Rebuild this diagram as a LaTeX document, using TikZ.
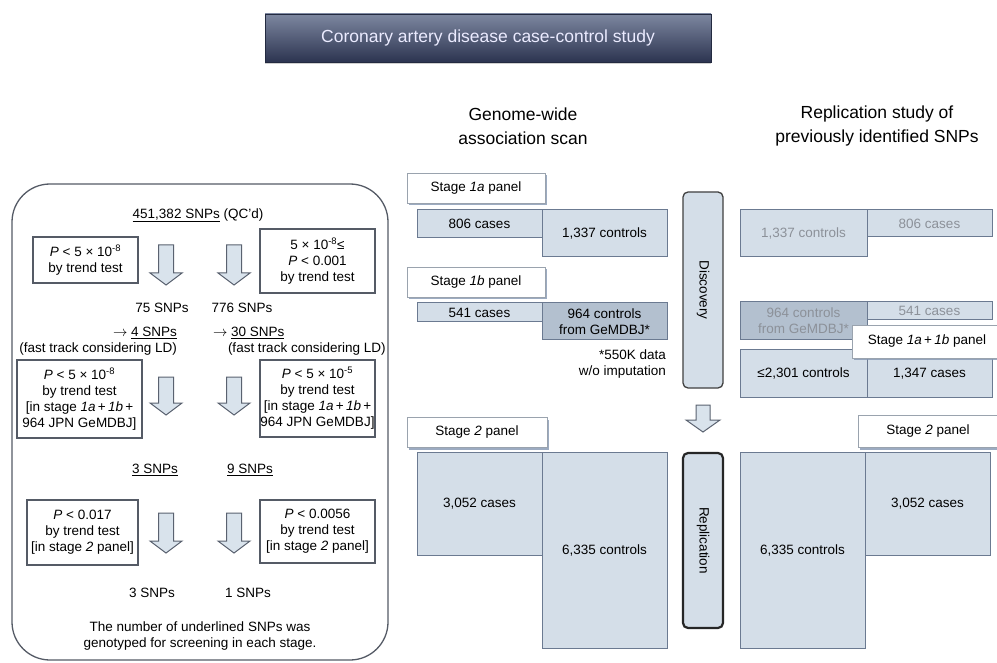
\documentclass[tikz,border=0pt]{standalone}
\usepackage{fontspec}
\setmainfont{Liberation Sans}
\usetikzlibrary{shadows}
\definecolor{boxfill}{HTML}{D4DEE8}
\definecolor{boxdraw}{HTML}{6B7A91}
\definecolor{darkfill}{HTML}{B3C0CF}
\definecolor{fadetext}{HTML}{8C9199}
\definecolor{lborder}{HTML}{555B66}
\definecolor{titletop}{HTML}{7D87A0}
\definecolor{titlebot}{HTML}{2C3450}
\definecolor{shadowc}{HTML}{8496B2}
\definecolor{arrfill}{HTML}{D9E3EC}
\definecolor{arrdraw}{HTML}{5A6270}
\definecolor{paneldraw}{HTML}{9AA3AE}
\newcommand{\blockdown}[5]{% x, top, tip, shaft half, head half
  \draw[blockarr] (#1-#4,#2) -- (#1+#4,#2) -- (#1+#4,#3-12) -- (#1+#5,#3-12)
    -- (#1,#3) -- (#1-#5,#3-12) -- (#1-#4,#3-12) -- cycle;}
\newcommand{\tarrow}{$\rightarrow$}
\begin{document}
\begin{tikzpicture}[x=1pt,y=-1pt,
  every node/.style={inner sep=0pt, outer sep=0pt, font=\fontsize{13.5}{16}\selectfont},
  cell/.style={draw=boxdraw, line width=1pt, fill=boxfill, align=center},
  darkcell/.style={cell, fill=darkfill},
  fade/.style={text=fadetext},
  panel/.style={draw=paneldraw, line width=0.8pt, fill=white,
    drop shadow={shadow xshift=2pt, shadow yshift=-2.5pt, fill=shadowc, opacity=0.8},
    minimum height=30pt},
  lbox/.style={draw=lborder, line width=1.2pt, fill=white, align=center},
  phase/.style={draw=black!75, line width=1.3pt, fill=boxfill, rounded corners=5pt,
    minimum width=40pt},
  heading/.style={align=center, font=\fontsize{17.5}{24}\selectfont},
  blockarr/.style={draw=arrdraw, line width=1pt, fill=arrfill, line join=miter},
  ]
\useasboundingbox[fill=white] (0,0) rectangle (997,663);

% title
\node[top color=titletop, bottom color=titlebot, draw=titlebot!80!black, line width=0.6pt,
  minimum width=446pt, minimum height=48pt, text=white!92!blue,
  font=\fontsize{17.5}{20}\selectfont,
  drop shadow={shadow xshift=0pt, shadow yshift=-2pt, fill=black!30, opacity=0.6}]
  (title) at (488,38) {Coronary artery disease case-control study};

% headings
\node[heading] (hgwas) at (523,126) {Genome-wide\\association scan};
\node[heading] (hrep) at (877,126) {Replication study of\\previously identified SNPs};

% ---------- left panel ----------
\draw[draw=lborder, line width=1.3pt, rounded corners=38pt] (12,184) rectangle (388,660);
\node (t451) at (198,215) {\underline{451,382 SNPs} (QC'd)};

\node[lbox, minimum width=105pt, minimum height=46pt] (b1) at (85.5,260)
  {\textit{P} < 5 × 10\textsuperscript{-8}\\by trend test};
\node[lbox, minimum width=115pt, minimum height=64pt] (b2) at (317.5,261)
  {5 × 10\textsuperscript{-8}≤\\\textit{P} < 0.001\\by trend test};
\blockdown{166}{245}{285}{7.5}{16}
\blockdown{234}{245}{285}{7.5}{16}

\node (n75) at (162,308) {75 SNPs};
\node (n776) at (242,308) {776 SNPs};
\node[anchor=east] (n4) at (177,333) {\tarrow\ \underline{4 SNPs}};
\node[anchor=east] (ft1) at (177,349) {(fast track considering LD)};
\node[anchor=west] (n30) at (213,333) {\tarrow\ \underline{30 SNPs}};
\node[anchor=west] (ft2) at (228,349) {(fast track considering LD)};

\node[lbox, minimum width=125pt, minimum height=78pt] (b3) at (79.5,399)
  {\textit{P} < 5 × 10\textsuperscript{-8}\\by trend test\\{[}in stage \textit{1a}\,+\,\textit{1b}\,+\\964 JPN GeMDBJ]};
\node[lbox, minimum width=115pt, minimum height=77pt] (b4) at (317.5,398.5)
  {\textit{P} < 5 × 10\textsuperscript{-5}\\by trend test\\{[}in stage \textit{1a}\,+\,\textit{1b}\,+\\964 JPN GeMDBJ]};
\blockdown{166}{377}{415}{7.5}{16}
\blockdown{234}{377}{415}{7.5}{16}

\node (n3a) at (155,470) {\underline{3 SNPs}};
\node (n9) at (250,470) {\underline{9 SNPs}};

\node[lbox, minimum width=111pt, minimum height=65pt] (b5) at (82.5,532.5)
  {\textit{P} < 0.017\\by trend test\\{[}in stage \textit{2} panel]};
\node[lbox, minimum width=115pt, minimum height=63pt] (b6) at (317.5,531.5)
  {\textit{P} < 0.0056\\by trend test\\{[}in stage \textit{2} panel]};
\blockdown{166}{513}{553}{7.5}{16}
\blockdown{234}{513}{553}{7.5}{16}

\node (n3b) at (152,593) {3 SNPs};
\node (n1) at (248,593) {1 SNPs};
\node[align=center] (foot) at (200,636)
  {The number of underlined SNPs was\\genotyped for screening in each stage.};

% ---------- middle: GWAS ----------
\node[panel, minimum width=138pt] (s1a) at (476,188) {Stage \textit{1a} panel};
\node[cell, minimum width=125pt, minimum height=28pt] (c806) at (479.5,224) {806 cases};
\node[cell, minimum width=125pt, minimum height=47pt] (c1337) at (604.5,233.5) {1,337 controls};

\node[panel, minimum width=138pt] (s1b) at (476,282) {Stage \textit{1b} panel};
\node[cell, minimum width=125pt, minimum height=19pt] (c541) at (479.5,312.5) {541 cases};
\node[darkcell, minimum width=125pt, minimum height=37pt] (c964) at (604.5,321.5)
  {964 controls\\from GeMDBJ*};
\node[align=right, anchor=north east] (note) at (666,350) {*550K data\\w/o imputation};

\node[panel, minimum width=140pt] (s2) at (477,432) {Stage \textit{2} panel};
\node[cell, minimum width=125pt, minimum height=103pt] (c3052) at (479.5,503.5) {3,052 cases};
\node[cell, minimum width=125pt, minimum height=196pt] (c6335) at (604.5,550) {6,335 controls};

% ---------- phases ----------
\node[phase, minimum height=196pt] (disc) at (703,290) {};
\node[rotate=-90] (disct) at (disc.center) {Discovery};
\node[phase, minimum height=175pt, line width=2.2pt, draw=black!85] (repl) at (703,540.5) {};
\node[rotate=-90] (replt) at (repl.center) {Replication};
\blockdown{703}{405}{432}{7}{17}

% ---------- right: replication ----------
\node[cell, fade, minimum width=127pt, minimum height=47pt] (r1337) at (803.5,233.5) {1,337 controls};
\node[cell, fade, minimum width=125pt, minimum height=27pt] (r806) at (929.5,223.5) {806 cases};
\node[darkcell, fade, minimum width=127pt, minimum height=38pt] (r964) at (803.5,321)
  {964 controls\\from GeMDBJ*};
\node[cell, fade, minimum width=125pt, minimum height=18pt] (r541) at (929.5,311) {541 cases};
\node[cell, minimum width=127pt, minimum height=47pt] (r2301) at (803.5,373.5) {≤2,301 controls};
\node[cell, minimum width=125pt, minimum height=47pt] (r1347) at (929.5,373.5) {\raisebox{-3pt}{1,347 cases}};
\node[panel, minimum width=150pt, minimum height=33pt] (s1ab) at (927,341.5)
  {Stage \textit{1a}\,+\,\textit{1b} panel};

\node[cell, minimum width=125pt, minimum height=196pt] (r6335) at (802.5,550) {6,335 controls};
\node[cell, minimum width=125pt, minimum height=103pt] (r3052) at (927.5,503.5) {3,052 cases};
\node[panel, minimum width=140pt, minimum height=32pt] (rs2) at (928,431) {Stage \textit{2} panel};
\end{tikzpicture}
\end{document}
